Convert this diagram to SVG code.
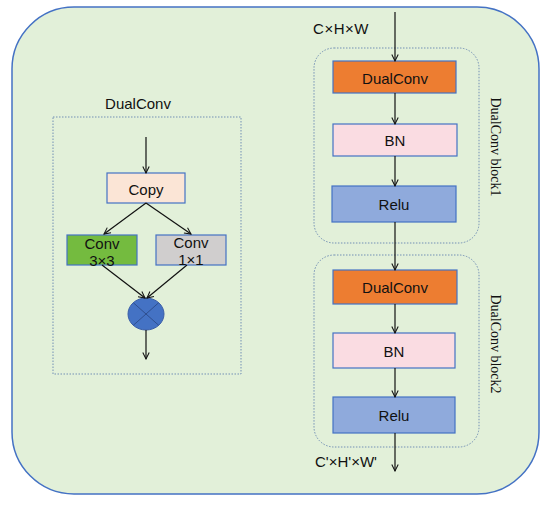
<svg xmlns="http://www.w3.org/2000/svg" width="550" height="505" viewBox="0 0 550 505">
<defs>
<marker id="ah" viewBox="0 0 10 10" refX="9" refY="5" markerWidth="8" markerHeight="8" markerUnits="userSpaceOnUse" orient="auto">
<path d="M1,1 L9,5 L1,9" fill="none" stroke="#111" stroke-width="1.3"/>
</marker>
</defs>
<style>
text{font-family:"Liberation Sans",Arial,sans-serif;font-size:15px;fill:#111;text-anchor:middle;dominant-baseline:central}
.box{stroke:#4472C4;stroke-width:1.2}
.dash{fill:none;stroke:#7390b5;stroke-width:1;stroke-dasharray:1.5 1.5}
.c{stroke:#111;stroke-width:1.2;fill:none;marker-end:url(#ah)}
.rot{font-family:"Liberation Serif","Times New Roman",serif;font-size:14px}
</style>
<rect x="12" y="7" width="527" height="487" rx="62" ry="62" fill="#E2F0D9" stroke="#4472C4" stroke-width="1.5"/>
<g id="dualconv-frame">
<rect class="dash" x="53" y="117" width="188" height="257"/>
<text x="138" y="103">DualConv</text>
</g>
<g id="copy"><rect class="box" x="107" y="173" width="78" height="30" fill="#FBE5D6"/><text x="146" y="189">Copy</text></g>
<g id="conv3"><rect class="box" x="67" y="235" width="70" height="30" fill="#74BB3F" stroke="#3e7a36"/><text x="102" y="243">Conv</text><text x="102" y="260">3×3</text></g>
<g id="conv1"><rect class="box" x="156" y="235" width="70" height="30" fill="#D0CECE"/><text x="191" y="242">Conv</text><text x="191" y="259">1×1</text></g>
<g id="mult"><ellipse cx="146" cy="314" rx="18" ry="16" fill="#4472C4" stroke="#3a5ea8"/><path d="M133.3,302.7 L158.7,325.3 M158.7,302.7 L133.3,325.3" stroke="#2f4f8f" stroke-width="1"/></g>
<g id="block1"><rect class="dash" x="314" y="48" width="165" height="195" rx="20"/><text class="rot" transform="translate(495,147) rotate(90)">DualConv block1</text></g>
<g id="block2"><rect class="dash" x="314" y="255" width="165" height="192" rx="20"/><text class="rot" transform="translate(495,344) rotate(90)">DualConv block2</text></g>
<g id="dc1"><rect class="box" x="333" y="61" width="123" height="32" fill="#ED7D31"/><text x="395" y="78">DualConv</text></g>
<g id="bn1"><rect class="box" x="333" y="124" width="124" height="32" fill="#FADCE2"/><text x="395" y="140">BN</text></g>
<g id="relu1"><rect class="box" x="332" y="186" width="124" height="36" fill="#8FAADC"/><text x="394" y="204">Relu</text></g>
<g id="dc2"><rect class="box" x="333" y="270" width="124" height="34" fill="#ED7D31"/><text x="395" y="287">DualConv</text></g>
<g id="bn2"><rect class="box" x="333" y="333" width="122" height="35" fill="#FADCE2"/><text x="394" y="351">BN</text></g>
<g id="relu2"><rect class="box" x="333" y="397" width="122" height="36" fill="#8FAADC"/><text x="394" y="415">Relu</text></g>
<text x="341" y="28" letter-spacing="0.5">C×H×W</text>
<text x="346" y="461">C'×H'×W'</text>
<g id="connectors">
<line class="c" x1="146" y1="137" x2="146" y2="173"/>
<line class="c" x1="146" y1="203" x2="104" y2="234"/>
<line class="c" x1="146" y1="203" x2="191" y2="234"/>
<line class="c" x1="102" y1="265" x2="145" y2="298"/>
<line class="c" x1="187" y1="265" x2="147" y2="298"/>
<line class="c" x1="146" y1="330" x2="146" y2="359"/>
<line class="c" x1="395" y1="12" x2="395" y2="61"/>
<line class="c" x1="395" y1="93" x2="395" y2="124"/>
<line class="c" x1="395" y1="156" x2="395" y2="186"/>
<line class="c" x1="395" y1="222" x2="395" y2="270"/>
<line class="c" x1="395" y1="304" x2="395" y2="333"/>
<line class="c" x1="395" y1="368" x2="395" y2="397"/>
<line class="c" x1="395" y1="433" x2="395" y2="471"/>
</g>
</svg>
